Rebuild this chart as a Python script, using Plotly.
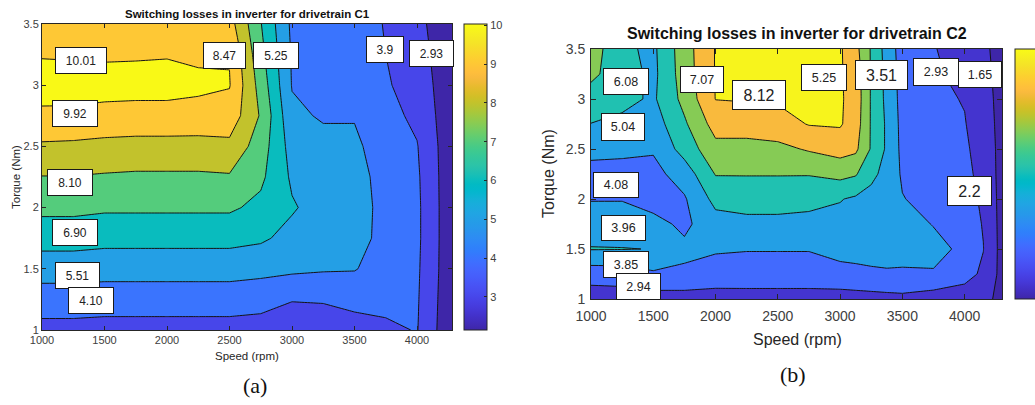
import numpy as np
import plotly.graph_objects as go

W, H = 1035, 405

# ---------------- data: (a) drivetrain C1 ----------------
speed_c1 = [1000, 1250, 1500, 1750, 2000, 2250, 2500, 2750, 3000, 3250, 3500, 3750, 4000, 4280]
torque_c1 = [1.0, 1.25, 1.5, 1.75, 2.0, 2.25, 2.5, 2.75, 3.0, 3.25, 3.5]
# one inner list per speed, values along torque (W)
loss_c1 = [
    [3.70, 4.50, 5.45, 6.40, 7.25, 7.97, 8.85, 9.85, 10.32, 9.95, 9.60],
    [3.70, 4.50, 5.45, 6.40, 7.25, 7.97, 8.80, 9.85, 10.30, 9.93, 9.60],
    [3.65, 4.45, 5.40, 6.30, 7.15, 7.90, 8.70, 9.75, 10.30, 9.90, 9.55],
    [3.65, 4.45, 5.40, 6.30, 7.15, 7.85, 8.65, 9.70, 10.30, 9.92, 9.55],
    [3.65, 4.45, 5.40, 6.30, 7.15, 7.85, 8.65, 9.70, 10.30, 9.95, 9.55],
    [3.65, 4.45, 5.40, 6.30, 7.15, 7.85, 8.65, 9.65, 10.20, 9.85, 9.50],
    [3.65, 4.45, 5.40, 6.30, 7.15, 7.90, 8.75, 9.60, 10.05, 9.95, 9.40],
    [3.60, 4.35, 5.30, 6.15, 6.75, 7.20, 7.50, 7.90, 7.60, 7.30, 7.05],
    [3.40, 4.05, 5.20, 5.70, 6.10, 5.85, 5.60, 5.20, 4.95, 4.90, 4.80],
    [3.35, 4.10, 5.10, 5.45, 5.60, 5.50, 5.30, 4.90, 4.70, 4.65, 4.60],
    [3.50, 4.35, 5.05, 5.30, 5.35, 5.30, 5.15, 4.95, 4.60, 4.50, 4.40],
    [3.80, 4.30, 4.60, 4.75, 4.75, 4.70, 4.60, 4.30, 4.10, 4.00, 3.95],
    [4.05, 4.10, 4.15, 4.20, 4.20, 4.15, 4.05, 3.80, 3.60, 3.45, 3.30],
    [2.20, 2.25, 2.30, 2.30, 2.30, 2.30, 2.30, 2.30, 2.30, 2.25, 2.20],
]
labels_c1 = ["10.01", "9.92", "8.47", "5.25", "3.9", "2.93", "8.10", "6.90", "5.51", "4.10"]
cbar_ticks_c1 = [3, 4, 5, 6, 7, 8, 9, 10]

# ---------------- data: (b) drivetrain C2 ----------------
speed_c2 = [1000, 1250, 1500, 1750, 2000, 2250, 2500, 2750, 3000, 3125, 3250, 3375, 3500, 3750, 4000, 4150, 4300]
torque_c2 = [1.0, 1.25, 1.5, 1.75, 2.0, 2.25, 2.5, 2.75, 3.0, 3.25, 3.5]
loss_c2 = [
    [2.45, 3.45, 5.05, 4.50, 3.95, 3.70, 4.25, 4.98, 5.60, 6.20, 6.50],
    [2.50, 3.50, 5.03, 4.50, 3.95, 3.60, 4.25, 4.75, 5.30, 5.50, 5.20],
    [2.55, 3.85, 4.98, 4.30, 3.60, 3.70, 4.10, 4.50, 4.85, 4.75, 4.80],
    [2.55, 3.85, 4.20, 3.80, 3.90, 4.45, 5.40, 5.85, 6.30, 6.50, 6.55],
    [2.55, 3.60, 4.10, 4.60, 5.30, 6.05, 6.70, 7.40, 8.02, 8.05, 8.05],
    [2.60, 3.55, 4.05, 4.75, 5.40, 6.05, 6.70, 7.40, 8.08, 8.10, 8.10],
    [2.60, 3.55, 4.05, 4.75, 5.40, 6.05, 6.75, 7.60, 8.12, 8.12, 8.10],
    [2.60, 3.55, 4.05, 4.70, 5.30, 6.05, 7.10, 8.05, 8.12, 8.12, 8.10],
    [2.55, 3.70, 4.30, 4.70, 5.05, 6.30, 7.40, 8.10, 8.12, 8.10, 8.12],
    [2.60, 3.75, 4.35, 4.70, 4.85, 6.10, 7.20, 7.50, 7.60, 7.55, 7.30],
    [2.65, 3.80, 4.45, 4.75, 4.80, 5.15, 5.90, 5.90, 5.90, 5.90, 5.90],
    [2.70, 3.85, 4.50, 4.70, 4.75, 4.80, 4.85, 4.85, 4.75, 4.70, 4.60],
    [2.75, 3.85, 4.40, 4.45, 4.05, 3.85, 3.75, 3.70, 3.65, 3.60, 3.55],
    [2.50, 3.90, 4.35, 3.95, 3.60, 3.50, 3.40, 3.30, 3.20, 3.10, 3.05],
    [2.55, 3.30, 3.75, 3.45, 3.35, 3.25, 3.15, 3.05, 2.95, 2.80, 2.60],
    [2.30, 2.85, 3.02, 2.95, 2.85, 2.70, 2.60, 2.45, 2.35, 2.25, 2.15],
    [1.70, 1.68, 1.66, 1.65, 1.65, 1.66, 1.68, 1.70, 1.70, 1.70, 1.72],
]
labels_c2 = ["6.08", "7.07", "8.12", "5.25", "3.51", "2.93", "1.65",
             "5.04", "4.08", "3.96", "3.85", "2.94", "2.2"]

# ---------------- styling / layout constants ----------------
PARULA = [
    (0.2422, 0.1504, 0.6603), (0.2504, 0.1650, 0.7076), (0.2578, 0.1818, 0.7511), (0.2647, 0.1978, 0.7952),
    (0.2706, 0.2147, 0.8364), (0.2751, 0.2342, 0.8710), (0.2783, 0.2559, 0.8991), (0.2803, 0.2782, 0.9221),
    (0.2813, 0.3006, 0.9414), (0.2810, 0.3228, 0.9579), (0.2795, 0.3447, 0.9717), (0.2760, 0.3667, 0.9829),
    (0.2699, 0.3892, 0.9906), (0.2602, 0.4123, 0.9952), (0.2440, 0.4358, 0.9988), (0.2206, 0.4603, 0.9973),
    (0.1963, 0.4847, 0.9892), (0.1834, 0.5074, 0.9798), (0.1786, 0.5289, 0.9682), (0.1764, 0.5499, 0.9520),
    (0.1687, 0.5703, 0.9359), (0.1540, 0.5902, 0.9218), (0.1460, 0.6091, 0.9079), (0.1380, 0.6276, 0.8973),
    (0.1248, 0.6459, 0.8883), (0.1113, 0.6635, 0.8763), (0.0952, 0.6798, 0.8598), (0.0689, 0.6948, 0.8394),
    (0.0297, 0.7082, 0.8163), (0.0036, 0.7203, 0.7917), (0.0067, 0.7312, 0.7660), (0.0433, 0.7411, 0.7394),
    (0.0964, 0.7500, 0.7120), (0.1408, 0.7584, 0.6842), (0.1717, 0.7670, 0.6554), (0.1938, 0.7758, 0.6251),
    (0.2161, 0.7843, 0.5923), (0.2470, 0.7918, 0.5567), (0.2906, 0.7973, 0.5188), (0.3406, 0.8008, 0.4789),
    (0.3909, 0.8029, 0.4354), (0.4456, 0.8024, 0.3909), (0.5044, 0.7993, 0.3480), (0.5616, 0.7942, 0.3045),
    (0.6174, 0.7876, 0.2612), (0.6720, 0.7793, 0.2227), (0.7242, 0.7698, 0.1910), (0.7738, 0.7598, 0.1646),
    (0.8203, 0.7498, 0.1535), (0.8634, 0.7406, 0.1596), (0.9035, 0.7330, 0.1774), (0.9393, 0.7288, 0.2100),
    (0.9728, 0.7298, 0.2394), (0.9956, 0.7434, 0.2371), (0.9970, 0.7659, 0.2199), (0.9952, 0.7893, 0.2028),
    (0.9892, 0.8136, 0.1885), (0.9786, 0.8386, 0.1766), (0.9676, 0.8639, 0.1643), (0.9610, 0.8890, 0.1537),
    (0.9597, 0.9135, 0.1423), (0.9628, 0.9373, 0.1265), (0.9691, 0.9606, 0.1064), (0.9769, 0.9839, 0.0805),
]
PAR = np.array(PARULA)


def rgb(c):
    return "rgb(%d,%d,%d)" % tuple(int(round(v * 255)) for v in c)


def parula(f):
    f = min(max(f, 0.0), 1.0)
    pos = f * (len(PAR) - 1)
    return rgb([np.interp(pos, np.arange(len(PAR)), PAR[:, k]) for k in range(3)])


PARULA_SCALE = [[i / (len(PAR) - 1), rgb(c)] for i, c in enumerate(PAR)]


def band_scale(levels, zmin, zmax):
    # MATLAB contourf: each band takes the colour of its lower level
    lows = [zmin] + list(levels)
    n = len(lows) - 1
    return [[k / n, parula((lo - zmin) / (zmax - zmin))] for k, lo in enumerate(lows)]


FONT = "Liberation Sans, Arial, sans-serif"
SERIF = "Liberation Serif, Times New Roman, serif"
AX = "#262626"

# plot areas in pixels (left, right, top, bottom)
A_BOX = (42, 452, 24, 330)
B_BOX = (591, 1002, 49, 299)

ZMIN_A, ZMAX_A = 2.15, 10.03
ZMIN_B, ZMAX_B = 1.65, 8.12
LEV_A = dict(start=3, end=10, size=1)
LEV_B = dict(start=2, end=8, size=1)

# label box placement (data coords) and box geometry (px)
BOX_A = [(1308, 3.198, 50, 25), (1260, 2.77, 44, 25), (2456, 3.24, 41, 25), (2868, 3.24, 44, 25),
         (3740, 3.29, 36, 25), (4112, 3.26, 43, 25), (1220, 2.205, 44, 25), (1260, 1.80, 44, 25),
         (1280, 1.449, 43, 25), (1388, 1.245, 44, 25)]
FS_A = [12] * 10
BOX_B = [(1277, 3.18, 44, 25), (1895, 3.20, 42, 25), (2349, 3.037, 52, 28), (2870, 3.22, 44, 25),
         (3336, 3.24, 51, 28), (3773, 3.27, 44, 26), (4126, 3.25, 42, 25),
         (1257, 2.72, 42, 26), (1197, 2.14, 44, 24), (1257, 1.707, 43, 24), (1277, 1.345, 44, 25),
         (1383, 1.127, 43, 25), (4042, 2.085, 43, 28)]
FS_B = [12.5, 12.5, 16, 12.5, 16, 12.5, 12.5, 12.5, 12.5, 12.5, 12.5, 12.5, 16]


def px(x):
    return x / W


def py(y):
    return 1 - y / H


fig = go.Figure()

fig.add_trace(go.Contour(
    x=speed_c1, y=torque_c1, z=np.array(loss_c1).T.tolist(),
    autocontour=False, contours=dict(coloring="fill", showlines=True, **LEV_A),
    line=dict(color="#141414", width=1, smoothing=0),
    colorscale=band_scale(range(LEV_A["start"], LEV_A["end"] + 1), ZMIN_A, ZMAX_A),
    showscale=False, hoverinfo="skip", xaxis="x", yaxis="y"))

fig.add_trace(go.Contour(
    x=speed_c2, y=torque_c2, z=np.array(loss_c2).T.tolist(),
    autocontour=False, contours=dict(coloring="fill", showlines=True, **LEV_B),
    line=dict(color="#141414", width=1, smoothing=0),
    colorscale=band_scale(range(LEV_B["start"], LEV_B["end"] + 1), ZMIN_B, ZMAX_B),
    showscale=False, hoverinfo="skip", xaxis="x2", yaxis="y2"))

# continuous colour bars (MATLAB style)
fig.add_trace(go.Scatter(
    x=[speed_c1[0]] * 2, y=[torque_c1[0]] * 2, mode="markers", xaxis="x", yaxis="y",
    hoverinfo="skip", showlegend=False,
    marker=dict(size=1, opacity=0, color=[ZMIN_A, ZMAX_A], cmin=ZMIN_A, cmax=ZMAX_A,
                colorscale=PARULA_SCALE, showscale=True,
                colorbar=dict(x=px(464), xanchor="left", y=py(24), yanchor="top",
                              len=306, lenmode="pixels", thickness=23, thicknessmode="pixels",
                              xpad=0, ypad=0, outlinewidth=1, outlinecolor=AX,
                              tickvals=cbar_ticks_c1, ticks="inside", ticklen=3, tickcolor=AX,
                              tickfont=dict(family=FONT, size=11, color="#404040")))))
fig.add_trace(go.Scatter(
    x=[speed_c2[0]] * 2, y=[torque_c2[0]] * 2, mode="markers", xaxis="x2", yaxis="y2",
    hoverinfo="skip", showlegend=False,
    marker=dict(size=1, opacity=0, color=[ZMIN_B, ZMAX_B], cmin=ZMIN_B, cmax=ZMAX_B,
                colorscale=PARULA_SCALE, showscale=True,
                colorbar=dict(x=px(1015), xanchor="left", y=py(49), yanchor="top",
                              len=250, lenmode="pixels", thickness=23, thicknessmode="pixels",
                              xpad=0, ypad=0, outlinewidth=1, outlinecolor=AX,
                              ticks="", showticklabels=False))))


def axis(dom, rng, tickvals, size, ticklen, anchor, standoff=0):
    return dict(domain=dom, range=rng, tickvals=tickvals, ticks="inside", ticklen=ticklen,
                tickcolor=AX, showline=True, linecolor=AX, linewidth=1, mirror="ticks",
                showgrid=False, zeroline=False, anchor=anchor, ticklabelstandoff=standoff,
                tickfont=dict(family=FONT, size=size, color="#404040"))


xt = [1000, 1500, 2000, 2500, 3000, 3500, 4000]
yt = [1, 1.5, 2, 2.5, 3, 3.5]
fig.update_layout(
    width=W, height=H,
    margin=dict(l=0, r=0, t=0, b=0, autoexpand=False),
    paper_bgcolor="white", plot_bgcolor="white", showlegend=False, hovermode=False,
    xaxis=axis([px(A_BOX[0]), px(A_BOX[1])], [speed_c1[0], speed_c1[-1]], xt, 11, 4, "y"),
    yaxis=axis([py(A_BOX[3]), py(A_BOX[2])], [1, 3.5], yt, 11, 4, "x"),
    xaxis2=axis([px(B_BOX[0]), px(B_BOX[1])], [speed_c2[0], speed_c2[-1]], xt, 14, 5, "y2", 4),
    yaxis2=axis([py(B_BOX[3]), py(B_BOX[2])], [1, 3.5], yt, 14, 5, "x2", 2),
)

ann = []
for txt, (sx, ty, bw, bh), fs in zip(labels_c1, BOX_A, FS_A):
    ann.append(dict(x=sx, y=ty, xref="x", yref="y", text=txt, showarrow=False,
                    width=bw, height=bh, bgcolor="white", bordercolor="#1a1a1a", borderwidth=1,
                    borderpad=0, font=dict(family=FONT, size=fs, color="#222")))
for txt, (sx, ty, bw, bh), fs in zip(labels_c2, BOX_B, FS_B):
    ann.append(dict(x=sx, y=ty, xref="x2", yref="y2", text=txt, showarrow=False,
                    width=bw, height=bh, bgcolor="white", bordercolor="#1a1a1a", borderwidth=1,
                    borderpad=0, font=dict(family=FONT, size=fs, color="#222")))


def ptext(text, x, y, size, bold=False, angle=0, family=FONT, color="#262626"):
    return dict(x=px(x), y=py(y), xref="paper", yref="paper", showarrow=False,
                text="<b>%s</b>" % text if bold else text, textangle=angle,
                xanchor="center", yanchor="middle", font=dict(family=family, size=size, color=color))


ann += [
    ptext("Switching losses in inverter for drivetrain C1", 247, 14, 11.5, bold=True, color="#111"),
    ptext("Speed (rpm)", 247, 356, 11.5),
    ptext("Torque (Nm)", 16, 177, 11.5, angle=-90),
    ptext("(a)", 255, 385, 22, family=SERIF, color="#111"),
    ptext("Switching losses in inverter for drivetrain C2", 797, 34, 16, bold=True, color="#111"),
    ptext("Speed (rpm)", 797, 339, 16),
    ptext("Torque (Nm)", 549, 174, 16, angle=-90),
    ptext("(b)", 793, 374, 22, family=SERIF, color="#111"),
]
fig.update_layout(annotations=ann)

fig.write_html("out.html")
